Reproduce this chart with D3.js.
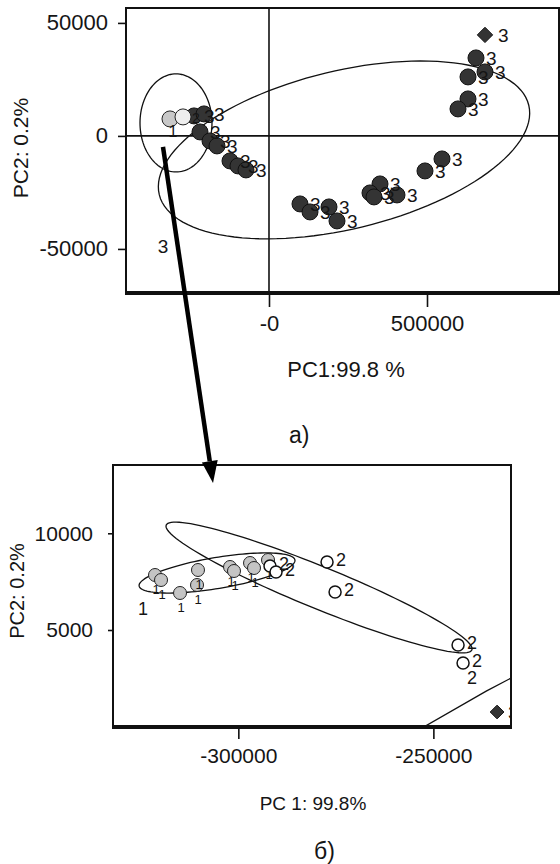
<!DOCTYPE html>
<html lang="ru">
<head>
<meta charset="utf-8">
<title>PCA scores</title>
<style>
  body { margin: 0; background: #fff; }
  svg text { font-family: "Liberation Sans", Arial, sans-serif; fill: #151515; }
</style>
</head>
<body>
<svg id="chart" width="560" height="864"></svg>
<script src="https://cdn.jsdelivr.net/npm/d3@7"></script>
<script>
// ---- panel a) : PC1 / PC2 scores, all samples ----
var group1A = [[-313280, 7520]];
var group2A = [[-272140, 8410]];
var group3A = [
    [655030, 34515], [683510, 28320], [629720, 26110], [629720, 16370], [598070, 11950],
    [547440, -10180], [493640, -15490], [351250, -21240], [319600, -25220], [332260, -26990],
    [405040, -26110], [98100, -30090], [129740, -33630], [189860, -31420], [215180, -37610],
    [-237330, 8850], [-205690, 9735], [-218340, 1770], [-186700, -2210], [-164550, -4425],
    [-123410, -11060], [-98100, -13275], [-72780, -15045]
];
var diamondsA = [[683510, 44690]];
var notesA = [[-335430, -51770, "3"]];
var xTicksA = [0, 500000];
var yTicksA = [50000, 0, -50000];

// confidence ellipses: centre, first half-axis, second half-axis (data units)
var ellipse1A = { c: [-294300, 5750], a: [113900, 0], b: [0, 21700] };
var ellipse3 = { c: [237400, -6200], a: [584600, 19800], b: [58900, -34000] };

// ---- panel б) : zoom on groups 1 and 2 ----
var group1B = [
    [-321360, 7843], [-319820, 7585], [-314950, 6913], [-310340, 8102], [-310590, 7326],
    [-302130, 8257], [-301110, 8050], [-297000, 8464], [-295980, 8205], [-292390, 8619]
];
var group2B = [
    [-291880, 8309], [-290340, 8000], [-277260, 8516], [-275200, 6965],
    [-243670, 4225], [-242390, 3294]
];
var diamondsB = [[-233670, 760]];
var notesB = [[-324440, 5775, "1"], [-240080, 2208, "2"]];
var xTicksB = [-300000, -250000];
var yTicksB = [10000, 5000];

var ellipse1B = { c: [-305460, 7947], a: [19970, 672], b: [656, -790] };
var ellipse2B = { c: [-279310, 7197], a: [39180, -3226], b: [-2036, -1006] };

// arrow from panel a) to panel б)
var arrowFrom = [-335430, -4870];   // panel a) data
var arrowTo = [-306490, 12600];     // panel б) data

var svg = d3.select("#chart");

var xA = d3.scaleLinear().domain([-452500, 917700]).range([126, 559]);
var yA = d3.scaleLinear().domain([-69500, 56600]).range([293, 8]);
var xB = d3.scaleLinear().domain([-332130, -230100]).range([113, 511]);
var yB = d3.scaleLinear().domain([-15, 13530]).range([727, 465]);

function ellipsePoints(e) {
    return d3.range(120).map(function(i) {
        var t = 2 * Math.PI * i / 120;
        return [e.c[0] + Math.cos(t) * e.a[0] + Math.sin(t) * e.b[0],
                e.c[1] + Math.cos(t) * e.a[1] + Math.sin(t) * e.b[1]];
    });
}

function drawPanel(id, x, y, opt) {
    var x0 = x.range()[0], x1 = x.range()[1];
    var y0 = y.range()[1], y1 = y.range()[0];

    svg.append("clipPath").attr("id", id + "-clip")
        .append("rect").attr("x", x0).attr("y", y0).attr("width", x1 - x0).attr("height", y1 - y0);

    var g = svg.append("g");
    var plot = g.append("g").attr("clip-path", "url(#" + id + "-clip)");

    if (opt.zeroLines) {
        plot.append("line").attr("x1", x(0)).attr("x2", x(0)).attr("y1", y0).attr("y2", y1)
            .attr("stroke", "#111").attr("stroke-width", 1.6);
        plot.append("line").attr("x1", x0).attr("x2", x1).attr("y1", y(0)).attr("y2", y(0))
            .attr("stroke", "#111").attr("stroke-width", 1.6);
    }

    var line = d3.line()
        .x(function(d) { return x(d[0]); })
        .y(function(d) { return y(d[1]); })
        .curve(d3.curveLinearClosed);

    opt.ellipses.forEach(function(e) {
        plot.append("path").attr("d", line(ellipsePoints(e)))
            .attr("fill", "none").attr("stroke", "#111").attr("stroke-width", 1.3);
    });

    opt.groups.forEach(function(grp) {
        var sel = plot.append("g");
        sel.selectAll("circle").data(grp.data).enter().append("circle")
            .attr("cx", function(d) { return x(d[0]); })
            .attr("cy", function(d) { return y(d[1]); })
            .attr("r", grp.r)
            .attr("fill", grp.fill)
            .attr("stroke", grp.stroke)
            .attr("stroke-width", grp.sw);
        sel.selectAll("text").data(grp.data).enter().append("text")
            .attr("x", function(d) { return x(d[0]) + grp.dx; })
            .attr("y", function(d) { return y(d[1]) + grp.dy; })
            .attr("text-anchor", grp.anchor)
            .attr("font-size", grp.fs)
            .text(grp.label);
    });

    plot.selectAll("path.diamond").data(opt.diamonds).enter().append("path")
        .attr("class", "diamond")
        .attr("d", d3.symbol().type(d3.symbolDiamond2).size(opt.diamondSize))
        .attr("transform", function(d) { return "translate(" + x(d[0]) + "," + y(d[1]) + ")"; })
        .attr("fill", "#333").attr("stroke", "#111");
    plot.selectAll("text.dlabel").data(opt.diamonds).enter().append("text")
        .attr("class", "dlabel")
        .attr("x", function(d) { return x(d[0]) + opt.diamondDx; })
        .attr("y", function(d) { return y(d[1]) + 7; })
        .attr("font-size", 19)
        .text("3");

    plot.selectAll("text.note").data(opt.notes).enter().append("text")
        .attr("class", "note")
        .attr("x", function(d) { return x(d[0]); })
        .attr("y", function(d) { return y(d[1]); })
        .attr("text-anchor", "middle")
        .attr("font-size", opt.noteSize)
        .text(function(d) { return d[2]; });

    // frame, bottom edge heavier
    g.append("rect").attr("x", x0).attr("y", y0).attr("width", x1 - x0).attr("height", y1 - y0)
        .attr("fill", "none").attr("stroke", "#111").attr("stroke-width", 2);
    g.append("line").attr("x1", x0 - 1).attr("x2", x1 + 1).attr("y1", y1).attr("y2", y1)
        .attr("stroke", "#111").attr("stroke-width", 4);

    var xAxis = g.append("g").attr("transform", "translate(0," + y1 + ")")
        .call(d3.axisBottom(x).tickValues(opt.xTicks).tickSize(opt.xTickLen).tickPadding(opt.xPad)
            .tickFormat(opt.xFormat));
    var yAxis = g.append("g").attr("transform", "translate(" + x0 + ",0)")
        .call(d3.axisLeft(y).tickValues(opt.yTicks).tickSize(opt.yTickLen).tickPadding(opt.yPad)
            .tickFormat(function(d) { return String(d); }));
    [xAxis, yAxis].forEach(function(a) {
        a.select(".domain").remove();
        a.selectAll("line").attr("stroke", "#111").attr("stroke-width", 1.6);
        a.selectAll("text").attr("font-size", opt.tickSize)
            .attr("font-family", "Liberation Sans, Arial, sans-serif").attr("fill", "#151515");
        a.attr("font-family", null).attr("font-size", null);
    });

    svg.append("text")
        .attr("x", opt.xTitle[0]).attr("y", opt.xTitle[1])
        .attr("text-anchor", "middle").attr("font-size", opt.xTitle[2])
        .text(opt.xTitle[3]);
    svg.append("text")
        .attr("transform", "translate(" + opt.yTitle[0] + "," + opt.yTitle[1] + ") rotate(-90)")
        .attr("text-anchor", "middle").attr("font-size", opt.yTitle[2])
        .text("PC2: 0.2%");
    svg.append("text")
        .attr("x", opt.caption[0]).attr("y", opt.caption[1])
        .attr("font-size", 23)
        .text(opt.caption[2]);
}

drawPanel("a", xA, yA, {
    zeroLines: true,
    ellipses: [ellipse1A, ellipse3],
    groups: [
        { data: group3A, r: 8, fill: "#343434", stroke: "#111", sw: 1, label: "3", dx: 10, dy: 7, fs: 19, anchor: "start" },
        { data: group1A, r: 8, fill: "#c8c8c8", stroke: "#222", sw: 1, label: "1", dx: 3, dy: 18, fs: 16, anchor: "middle" },
        { data: group2A, r: 8, fill: "#eeeeee", stroke: "#222", sw: 1, label: "2", dx: 9, dy: 6, fs: 14, anchor: "start" }
    ],
    diamonds: diamondsA, diamondSize: 150, diamondDx: 13,
    notes: notesA, noteSize: 19,
    xTicks: xTicksA, yTicks: yTicksA,
    xFormat: function(d) { return d === 0 ? "-0" : String(d); },
    xTickLen: 14, xPad: 8, yTickLen: 8, yPad: 10, tickSize: 22,
    xTitle: [346, 377, 22, "PC1:99.8 %"],
    yTitle: [28, 148, 21],
    caption: [289, 443, "a)"]
});

drawPanel("b", xB, yB, {
    zeroLines: false,
    ellipses: [ellipse1B, ellipse2B, ellipse3],
    groups: [
        { data: group1B, r: 6.5, fill: "#c4c4c4", stroke: "#222", sw: 1, label: "1", dx: 1, dy: 19, fs: 13, anchor: "middle" },
        { data: group2B, r: 6, fill: "#fff", stroke: "#111", sw: 1.5, label: "2", dx: 9, dy: 4, fs: 18, anchor: "start" }
    ],
    diamonds: diamondsB, diamondSize: 120, diamondDx: 11,
    notes: notesB, noteSize: 18,
    xTicks: xTicksB, yTicks: yTicksB,
    xFormat: function(d) { return String(d); },
    xTickLen: 12, xPad: 9, yTickLen: 5, yPad: 15, tickSize: 21,
    xTitle: [313, 810, 19, "PC 1: 99.8%"],
    yTitle: [24, 591, 20],
    caption: [314, 859, "б)"]
});

// thick arrow linking the two panels
var p0 = [xA(arrowFrom[0]), yA(arrowFrom[1])];
var p1 = [xB(arrowTo[0]), yB(arrowTo[1])];
var ang = Math.atan2(p1[1] - p0[1], p1[0] - p0[0]);
var headLen = 22, headHalf = 8;
var base = [p1[0] - headLen * Math.cos(ang), p1[1] - headLen * Math.sin(ang)];
svg.append("line")
    .attr("x1", p0[0]).attr("y1", p0[1]).attr("x2", base[0]).attr("y2", base[1])
    .attr("stroke", "#000").attr("stroke-width", 4.5);
svg.append("path")
    .attr("d", "M" + p1[0] + "," + p1[1] +
        "L" + (base[0] + headHalf * Math.sin(ang)) + "," + (base[1] - headHalf * Math.cos(ang)) +
        "L" + (base[0] - headHalf * Math.sin(ang)) + "," + (base[1] + headHalf * Math.cos(ang)) + "Z")
    .attr("fill", "#000");
</script>
</body>
</html>
